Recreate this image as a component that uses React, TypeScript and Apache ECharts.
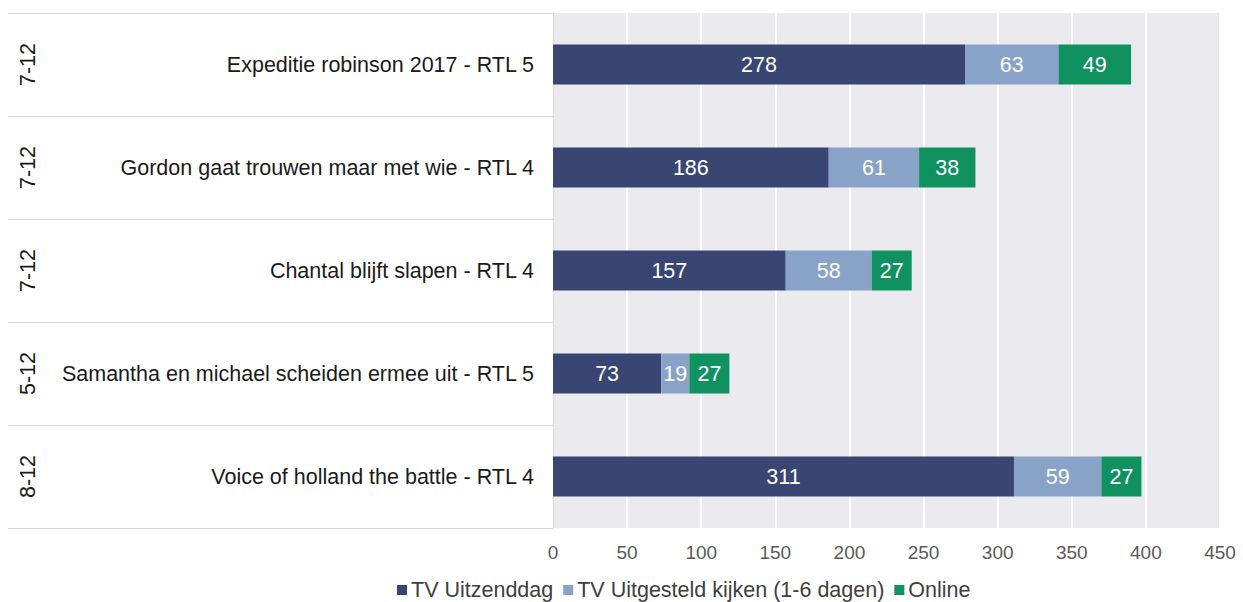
import React, { useEffect, useRef } from "react";
import * as echarts from "echarts";

const programmes = [
  "Expeditie robinson 2017 - RTL 5",
  "Gordon gaat trouwen maar met wie - RTL 4",
  "Chantal blijft slapen - RTL 4",
  "Samantha en michael scheiden ermee uit - RTL 5",
  "Voice of holland the battle - RTL 4",
];
const dates = ["7-12", "7-12", "7-12", "5-12", "8-12"];
const tvUitzenddag = [278, 186, 157, 73, 311];
const tvUitgesteld = [63, 61, 58, 19, 59];
const online = [49, 38, 27, 27, 27];
const seriesNames = ["TV Uitzenddag", "TV Uitgesteld kijken (1-6 dagen)", "Online"];
const colors = ["#394573", "#89a3c8", "#0f9160"];

const FONT = "Liberation Sans, Arial, sans-serif";

export default function App() {
  const ref = useRef<HTMLDivElement>(null);
  useEffect(() => {
    if (!ref.current) return;
    const chart = echarts.init(ref.current, undefined, { renderer: "svg" });
    const mk = (name: string, data: number[], color: string) => ({
      name,
      type: "bar",
      stack: "total",
      data,
      barWidth: 40,
      itemStyle: { color },
      label: {
        show: true,
        position: "inside",
        color: "#ffffff",
        fontSize: 21.5,
        fontFamily: FONT,
      },
    });
    chart.setOption({
      animation: false,
      textStyle: { fontFamily: FONT },
      legend: {
        bottom: -4,
        left: 392,
        itemWidth: 10,
        itemHeight: 10,
        itemGap: 10,
        icon: "rect",
        textStyle: { fontSize: 21.5, color: "#404040", fontFamily: FONT, padding: [0, 0, 0, -1] },
        data: seriesNames,
      },
      grid: {
        left: 553,
        right: 23,
        top: 13,
        bottom: 74,
        show: true,
        backgroundColor: "#ebebef",
        borderWidth: 0,
      },
      xAxis: {
        type: "value",
        min: 0,
        max: 450,
        interval: 50,
        axisLine: { show: false },
        axisTick: { show: false },
        splitLine: { show: true, lineStyle: { color: "#ffffff", width: 2 } },
        axisLabel: { fontSize: 19, color: "#595959", margin: 15, fontFamily: FONT },
      },
      yAxis: [
        {
          type: "category",
          inverse: true,
          data: programmes,
          axisLine: { show: true, lineStyle: { color: "#d9d9d9" } },
          axisTick: { show: true, length: 545, lineStyle: { color: "#d9d9d9", width: 1 } },
          axisLabel: { fontSize: 21.5, color: "#1a1a1a", margin: 19, fontFamily: FONT },
        },
        {
          type: "category",
          inverse: true,
          position: "left",
          offset: 514,
          data: dates,
          axisLine: { show: false },
          axisTick: { show: false },
          axisLabel: { rotate: 90, fontSize: 21.5, color: "#1a1a1a", margin: 0, fontFamily: FONT },
        },
      ],
      series: [
        mk(seriesNames[0], tvUitzenddag, colors[0]),
        mk(seriesNames[1], tvUitgesteld, colors[1]),
        mk(seriesNames[2], online, colors[2]),
      ],
    });
    return () => chart.dispose();
  }, []);
  return <div ref={ref} style={{ width: 1243, height: 602, position: "absolute", left: 0, top: 0 }} />;
}
